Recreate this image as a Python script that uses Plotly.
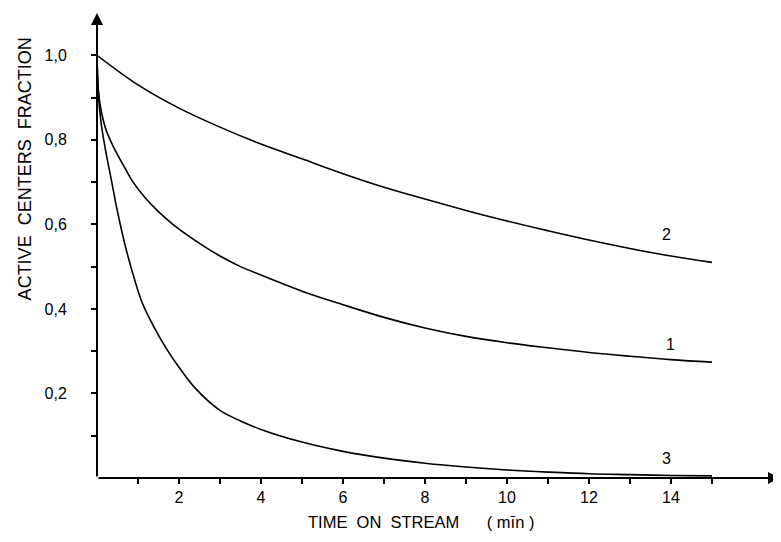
import plotly.graph_objects as go

# Curve data (time in min, active centers fraction)
t2 = [0, 1, 2, 3, 4, 5, 6, 7, 8, 9, 10, 11, 12, 13, 14, 15]
y2 = [1.0, 0.93, 0.875, 0.83, 0.79, 0.755, 0.72, 0.688, 0.66, 0.633, 0.608, 0.585, 0.563, 0.543, 0.525, 0.51]

t1 = [0, 0.03, 0.1, 0.2, 0.32, 0.5, 0.7, 0.88, 1.2, 1.5, 1.85, 2.5, 3, 3.5, 4, 5, 6, 7, 8, 9, 10, 11, 12, 13, 14, 15]
y1 = [1.0, 0.92, 0.87, 0.83, 0.80, 0.765, 0.73, 0.70, 0.66, 0.63, 0.60, 0.555, 0.525, 0.50, 0.48, 0.442, 0.41, 0.38, 0.355, 0.335, 0.32, 0.308, 0.297, 0.288, 0.28, 0.274]

t3 = [0, 0.04, 0.1, 0.2, 0.36, 0.5, 0.7, 0.9, 1.1, 1.4, 1.7, 2.0, 2.4, 3.0, 3.5, 4, 5, 6, 7, 8, 9, 10, 11, 12, 13, 14, 15]
y3 = [1.0, 0.9, 0.84, 0.78, 0.70, 0.63, 0.545, 0.475, 0.415, 0.355, 0.305, 0.262, 0.212, 0.16, 0.135, 0.115, 0.085, 0.063, 0.047, 0.035, 0.026, 0.019, 0.014, 0.010, 0.008, 0.006, 0.005]

curve_labels = ["2", "1", "3"]
label_t = [13.9, 14.0, 13.9]
label_y = [0.575, 0.315, 0.045]

x_ticks = list(range(1, 16))
x_ticktext = [str(v) if v % 2 == 0 and v <= 14 else "" for v in x_ticks]
y_ticks = [0.1, 0.2, 0.3, 0.4, 0.5, 0.6, 0.7, 0.8, 0.9, 1.0]
y_ticktext = ["", "0,2", "", "0,4", "", "0,6", "", "0,8", "", "1,0"]

FONT = "Liberation Sans"

fig = go.Figure()
for t, y in [(t2, y2), (t1, y1), (t3, y3)]:
    fig.add_trace(go.Scatter(x=t, y=y, mode="lines",
                             line=dict(color="black", width=1.6, shape="spline", smoothing=1.0),
                             showlegend=False, hoverinfo="skip"))

for txt, xt, yt in zip(curve_labels, label_t, label_y):
    fig.add_annotation(x=xt, y=yt, text=txt, showarrow=False,
                       font=dict(family=FONT, size=16, color="black"))

# Axis arrows
fig.add_annotation(x=16.66, y=0, ax=0, ay=0, xref="x", yref="y", axref="x", ayref="y",
                   text="", showarrow=True, arrowhead=2, arrowsize=1.2, arrowwidth=2, arrowcolor="black")
fig.add_annotation(x=0, y=1.1, ax=0, ay=0, xref="x", yref="y", axref="x", ayref="y",
                   text="", showarrow=True, arrowhead=2, arrowsize=1.2, arrowwidth=2, arrowcolor="black")

# Axis titles
fig.add_annotation(text="ACTIVE  CENTERS  FRACTION", xref="paper", yref="paper",
                   x=-0.106, y=0.665, xanchor="center", yanchor="middle",
                   textangle=-90, showarrow=False,
                   font=dict(family=FONT, size=18, color="black"))
fig.add_annotation(text="TIME  ON  STREAM      ( mīn )", xref="paper", yref="paper",
                   x=0.475, y=-0.095, xanchor="center", yanchor="middle", showarrow=False,
                   font=dict(family=FONT, size=16.5, color="black"))

fig.update_xaxes(range=[0, 16.66], tickvals=x_ticks, ticktext=x_ticktext,
                 ticks="outside", ticklen=5, tickwidth=1.5, tickcolor="black",
                 showgrid=False, zeroline=False, showline=False, automargin=False,
                 tickfont=dict(family=FONT, size=16, color="black"))
fig.update_yaxes(range=[0, 1.1], tickvals=y_ticks, ticktext=y_ticktext,
                 ticks="outside", ticklen=5, tickwidth=1.5, tickcolor="black",
                 ticklabelstandoff=21,
                 showgrid=False, zeroline=False, showline=False, automargin=False,
                 tickfont=dict(family=FONT, size=16, color="black"))

# page body adds an 8px offset; margins compensate so the plot area sits where the reference has it
fig.update_layout(width=781, height=542, plot_bgcolor="white", paper_bgcolor="white",
                  margin=dict(l=89, r=9, t=5, b=72))

fig.write_html("out.html")
